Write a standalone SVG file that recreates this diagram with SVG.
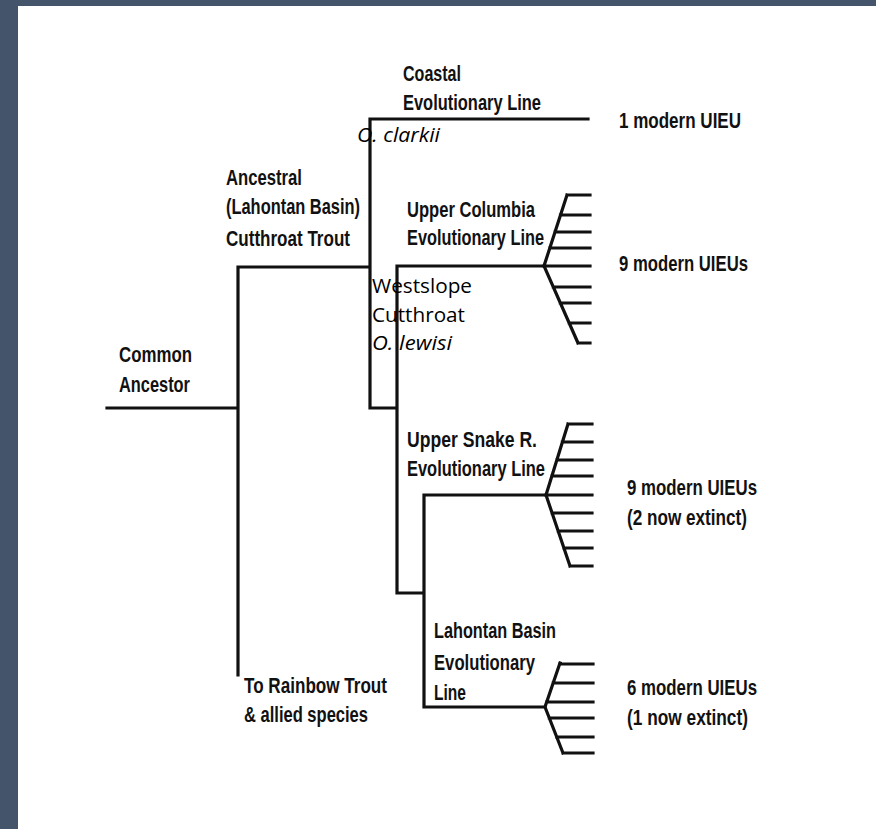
<svg xmlns="http://www.w3.org/2000/svg" width="876" height="829" viewBox="0 0 876 829">
<style>
.b{font-family:"Liberation Sans",Arial,sans-serif;font-weight:bold;font-size:22.5px;fill:#111;}
.r{font-family:"Open Sans","Liberation Sans",sans-serif;font-size:20.5px;fill:#000;}
.i{font-style:italic;}
.ln{fill:none;stroke:#111;stroke-width:3.2;stroke-linecap:square;stroke-linejoin:miter;}
</style>
<rect x="0" y="0" width="876" height="829" fill="#ffffff"/>
<rect x="0" y="0" width="18" height="829" fill="#44546a"/>
<rect x="0" y="0" width="876" height="6" fill="#44546a"/>
<g id="connectors">
<path class="ln" d="M107 408 H238 M238 267 V675 M238 267 H370 M370 119 V408 H397 M370 119 H588 M397 266 V593 H424 M397 266 H544 M424 495 V707 M424 495 H546 M424 707 H545"/>
</g>
<g id="fan-upper-columbia">
<path class="ln" d="M567 195 L544 266 L578 343 M567 195 H590 M560.5 215 H590 M555 232 H590 M549.8 248 H590 M544 266 H590 M553.3 287 H590 M560.3 303 H590 M569.2 323 H590 M578 343 H590"/>
</g>
<g id="fan-upper-snake">
<path class="ln" d="M568 424 L546 495 L570 566 M568 424 H592 M562.4 442 H592 M556.9 460 H592 M551.9 476 H592 M546 495 H592 M552.1 513 H592 M558.2 531 H592 M563.9 548 H592 M570 566 H592"/>
</g>
<g id="fan-lahontan">
<path class="ln" d="M560 663 L545 707 L563 753 M559.7 664 H593 M553.2 683 H593 M546.7 702 H593 M549.3 718 H593 M556.7 737 H593 M563 753 H593"/>
</g>
<g id="common-ancestor">
<text class="b" x="119" y="362" textLength="73" lengthAdjust="spacingAndGlyphs">Common</text>
<text class="b" x="119" y="392" textLength="71" lengthAdjust="spacingAndGlyphs">Ancestor</text>
</g>
<g id="ancestral-lahontan">
<text class="b" x="226" y="185" textLength="76" lengthAdjust="spacingAndGlyphs">Ancestral</text>
<text class="b" x="226" y="214" textLength="134" lengthAdjust="spacingAndGlyphs">(Lahontan Basin)</text>
<text class="b" x="226" y="246" textLength="124" lengthAdjust="spacingAndGlyphs">Cutthroat Trout</text>
</g>
<g id="coastal">
<text class="b" x="403" y="81" textLength="58" lengthAdjust="spacingAndGlyphs">Coastal</text>
<text class="b" x="403" y="110" textLength="138" lengthAdjust="spacingAndGlyphs">Evolutionary Line</text>
<text class="r i" x="357" y="142" textLength="83" lengthAdjust="spacingAndGlyphs">O. clarkii</text>
</g>
<g id="upper-columbia">
<text class="b" x="407" y="217" textLength="128" lengthAdjust="spacingAndGlyphs">Upper Columbia</text>
<text class="b" x="407" y="245" textLength="137" lengthAdjust="spacingAndGlyphs">Evolutionary Line</text>
</g>
<g id="westslope">
<text class="r" x="372" y="293" textLength="100" lengthAdjust="spacingAndGlyphs">Westslope</text>
<text class="r" x="372" y="322" textLength="93" lengthAdjust="spacingAndGlyphs">Cutthroat</text>
<text class="r i" x="372" y="350" textLength="80" lengthAdjust="spacingAndGlyphs">O. lewisi</text>
</g>
<g id="upper-snake">
<text class="b" x="407" y="447" textLength="130" lengthAdjust="spacingAndGlyphs">Upper Snake R.</text>
<text class="b" x="407" y="476" textLength="138" lengthAdjust="spacingAndGlyphs">Evolutionary Line</text>
</g>
<g id="lahontan-basin">
<text class="b" x="434" y="638" textLength="122" lengthAdjust="spacingAndGlyphs">Lahontan Basin</text>
<text class="b" x="434" y="670" textLength="101" lengthAdjust="spacingAndGlyphs">Evolutionary</text>
<text class="b" x="434" y="700" textLength="32" lengthAdjust="spacingAndGlyphs">Line</text>
</g>
<g id="rainbow">
<text class="b" x="244" y="693" textLength="143" lengthAdjust="spacingAndGlyphs">To Rainbow Trout</text>
<text class="b" x="244" y="722" textLength="124" lengthAdjust="spacingAndGlyphs">&amp; allied species</text>
</g>
<g id="uieu-coastal">
<text class="b" x="619" y="128" textLength="122" lengthAdjust="spacingAndGlyphs">1 modern UIEU</text>
</g>
<g id="uieu-columbia">
<text class="b" x="619" y="271" textLength="129" lengthAdjust="spacingAndGlyphs">9 modern UIEUs</text>
</g>
<g id="uieu-snake">
<text class="b" x="627" y="495" textLength="130" lengthAdjust="spacingAndGlyphs">9 modern UIEUs</text>
<text class="b" x="627" y="525" textLength="120" lengthAdjust="spacingAndGlyphs">(2 now extinct)</text>
</g>
<g id="uieu-lahontan">
<text class="b" x="627" y="695" textLength="130" lengthAdjust="spacingAndGlyphs">6 modern UIEUs</text>
<text class="b" x="627" y="725" textLength="121" lengthAdjust="spacingAndGlyphs">(1 now extinct)</text>
</g>
</svg>
